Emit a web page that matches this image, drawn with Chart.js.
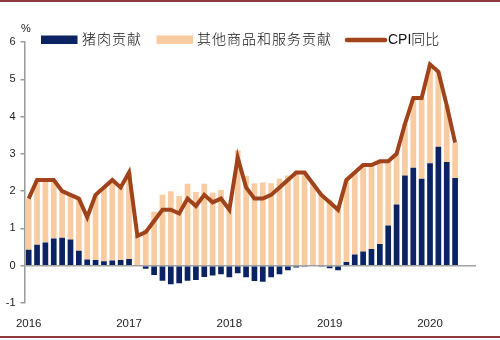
<!DOCTYPE html>
<html><head><meta charset="utf-8">
<script src="https://cdn.jsdelivr.net/npm/chart.js@4"></script>
<style>
html,body{margin:0;padding:0;background:#fff;}
#wrap{position:relative;width:500px;height:340px;overflow:hidden;}
#topline{position:absolute;left:0;top:0;width:500px;height:2px;background:#8c3b3b;}
#botline{position:absolute;left:0;top:336px;width:500px;height:2px;background:#8c3b3b;}
canvas{position:absolute;left:0;top:0;}
</style></head>
<body>
<div id="wrap"><canvas id="c" width="500" height="340"></canvas><div id="topline"></div><div id="botline"></div></div>
<script>
const categories = [
 '2016-01','2016-02','2016-03','2016-04','2016-05','2016-06','2016-07','2016-08','2016-09','2016-10','2016-11','2016-12',
 '2017-01','2017-02','2017-03','2017-04','2017-05','2017-06','2017-07','2017-08','2017-09','2017-10','2017-11','2017-12',
 '2018-01','2018-02','2018-03','2018-04','2018-05','2018-06','2018-07','2018-08','2018-09','2018-10','2018-11','2018-12',
 '2019-01','2019-02','2019-03','2019-04','2019-05','2019-06','2019-07','2019-08','2019-09','2019-10','2019-11','2019-12',
 '2020-01','2020-02','2020-03','2020-04','2020-05','2020-06'
];
const seriesNames = ['猪肉贡献', '其他商品和服务贡献', 'CPI同比'];
const pork = [
 0.43,0.56,0.62,0.73,0.75,0.70,0.40,0.17,0.15,0.12,0.14,0.15,
 0.18,-0.02,-0.08,-0.25,-0.40,-0.50,-0.47,-0.40,-0.38,-0.30,-0.26,-0.23,
 -0.31,-0.20,-0.31,-0.41,-0.43,-0.31,-0.23,-0.12,-0.05,-0.03,-0.02,-0.03,
 -0.07,-0.12,0.10,0.30,0.38,0.45,0.58,1.08,1.64,2.42,2.63,2.33,
 2.75,3.19,2.78,2.35,null,null
];
const others = [
 1.37,1.74,1.68,1.57,1.25,1.20,1.40,1.13,1.75,1.98,2.16,1.95,
 2.32,0.82,0.98,1.45,1.90,2.00,1.87,2.20,1.98,2.20,1.96,2.03,
 1.52,3.10,2.41,2.21,2.23,2.21,2.33,2.42,2.55,2.53,2.22,1.93,
 1.77,1.62,2.20,2.20,2.32,2.25,2.22,1.72,1.36,1.38,1.87,2.17,
 2.65,2.01,1.52,0.95,null,null
];
const cpi = [
 1.8,2.3,2.3,2.3,2.0,1.9,1.8,1.3,1.9,2.1,2.3,2.1,
 2.5,0.8,0.9,1.2,1.5,1.5,1.4,1.8,1.6,1.9,1.7,1.8,
 1.5,2.9,2.1,1.8,1.8,1.9,2.1,2.3,2.5,2.5,2.2,1.9,
 1.7,1.5,2.3,2.5,2.7,2.7,2.8,2.8,3.0,3.8,4.5,4.5,
 5.4,5.2,4.3,3.3,null,null
];
const yTicks = [-1,0,1,2,3,4,5,6];
const unitLabel = '%';

const colPork = '#0B2363';
const colOther = '#F9CBA1';
const colCpi = '#A0421A';
const latin = '"Liberation Sans", Arial, "Noto Sans CJK SC", sans-serif';
const cjk = '"Liberation Sans", "Noto Sans CJK SC", sans-serif';

const legendPlugin = {
  id: 'customLegend',
  afterDraw(chart) {
    const ctx = chart.ctx;
    const ds = chart.data.datasets;
    ctx.save();
    ctx.fillStyle = '#222';
    ctx.font = '11px ' + latin;
    ctx.textAlign = 'center';
    ctx.textBaseline = 'middle';
    ctx.fillText(unitLabel, 26, 29);
    const cy = 40;
    ctx.textAlign = 'left';
    ctx.font = '300 14px ' + cjk;
    try { ctx.letterSpacing = '1px'; } catch(e) {}
    ctx.fillStyle = ds[1].backgroundColor;
    ctx.fillRect(41, cy - 4.5, 36.5, 8.5);
    ctx.fillStyle = '#111';
    ctx.fillText(ds[1].label, 82, cy);
    ctx.fillStyle = ds[2].backgroundColor;
    ctx.fillRect(156.5, cy - 4.5, 36.5, 8.5);
    ctx.fillStyle = '#111';
    ctx.fillText(ds[2].label, 197, cy);
    ctx.strokeStyle = ds[0].borderColor;
    ctx.lineWidth = 4.5;
    ctx.lineCap = 'round';
    ctx.beginPath();
    ctx.moveTo(347, cy);
    ctx.lineTo(385, cy);
    ctx.stroke();
    ctx.fillStyle = '#111';
    try { ctx.letterSpacing = '0px'; } catch(e) {}
    ctx.fillText(ds[0].label, 388, cy);
    ctx.restore();
  }
};

new Chart(document.getElementById('c'), {
  type: 'bar',
  data: {
    labels: categories,
    datasets: [
      { type: 'line', label: seriesNames[2], data: cpi, borderColor: colCpi, backgroundColor: colCpi,
        borderWidth: 4, pointRadius: 0, pointHoverRadius: 0, fill: false, tension: 0, stack: 'cpi', order: 0 },
      { label: seriesNames[0], data: pork, backgroundColor: colPork, stack: 'bars', order: 1,
        barPercentage: 0.68, categoryPercentage: 1 },
      { label: seriesNames[1], data: others, backgroundColor: colOther, stack: 'bars', order: 1,
        barPercentage: 0.68, categoryPercentage: 1 }
    ]
  },
  options: {
    responsive: false,
    animation: false,
    devicePixelRatio: 1,
    layout: { padding: { top: 42, right: 24, left: 0, bottom: 0 } },
    plugins: { legend: { display: false }, tooltip: { enabled: false } },
    scales: {
      x: {
        stacked: true,
        grid: { display: false },
        border: { display: false },
        ticks: {
          autoSkip: false, maxRotation: 0, minRotation: 0, padding: 6,
          font: { size: 11.5, family: latin }, color: '#222',
          callback: (v, i) => categories[i].endsWith('-01') ? categories[i].slice(0, 4) : ''
        },
        afterFit(s) { s.height = 37; }
      },
      y: {
        stacked: true,
        min: yTicks[0], max: yTicks[yTicks.length - 1],
        afterBuildTicks(s) { s.ticks = yTicks.map(v => ({ value: v })); },
        ticks: { padding: 5, font: { size: 11, family: latin }, color: '#222' },
        grid: {
          color: c => (c.tick && c.tick.value === 0) ? '#a3a3a3' : 'rgba(0,0,0,0)',
          lineWidth: 1.5, tickColor: '#9a9a9a', tickLength: 4, drawTicks: true
        },
        border: { display: true, color: '#9a9a9a', width: 1.5 },
        afterFit(s) { s.width = 24.5; }
      }
    }
  },
  plugins: [legendPlugin]
});
</script>
</body></html>
